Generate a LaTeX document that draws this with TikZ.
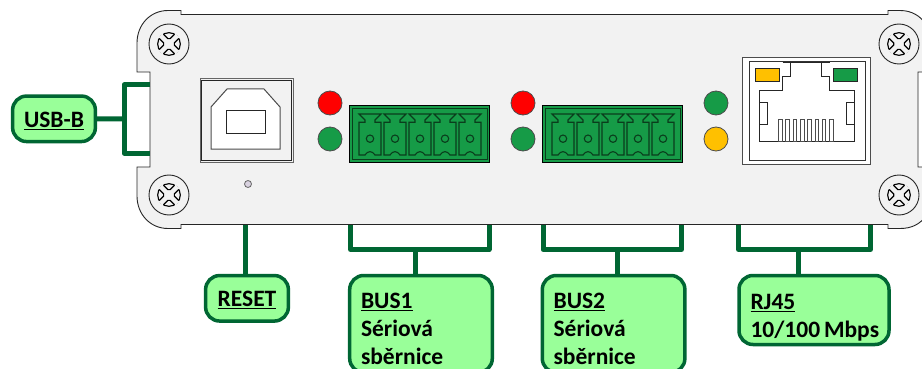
\documentclass[tikz,border=0pt]{standalone}
\usepackage{fontspec}
\setmainfont{Carlito}
\definecolor{panelgray}{HTML}{F2F2F2}
\definecolor{boxgreen}{HTML}{99FF99}
\definecolor{linegreen}{HTML}{006633}
\definecolor{ledgreen}{HTML}{169B47}
\definecolor{ledred}{HTML}{FF0000}
\definecolor{ledyellow}{HTML}{FFC000}
\definecolor{termdark}{HTML}{0A3D1C}
\definecolor{holegray}{HTML}{D9D2E0}
\tikzset{
	lblbox/.style = {draw = linegreen, line width = 3.5pt, fill = boxgreen, rounded corners = 14pt, inner sep = 0pt, align = left, font = \fontsize{23.5}{28}\bfseries\selectfont},
	bracket/.style = {draw = linegreen, line width = 5pt, line join = round},
	ledlamp/.style = {draw = black!70, line width = 0.8pt},
	thinline/.style = {draw = black!85, line width = 0.9pt}
}
\begin{document}
\begin{tikzpicture}[x = 1pt, y = -1pt]
	\useasboundingbox (0,0) rectangle (922,369);
	\clip (0,0) rectangle (922,369);
	\draw [thinline, fill = panelgray] (181,14.5) -- (888,14.5) -- (888,10.5) -- (900,10.5) .. controls (912,10.5) and (920,16) .. (926,24) -- (926,72) -- (918,72) -- (918,167) -- (926,167) -- (926,216) .. controls (920,224) and (912,228.5) .. (900,228.5) -- (888,228.5) -- (888,224.5) -- (181,224.5) -- (181,228.5) -- (168,228.5) .. controls (150,228.5) and (137,214) .. (137,196) -- (137,167) -- (150,167) -- (150,72) -- (137,72) -- (137,43) .. controls (137,25) and (150,10.5) .. (168,10.5) -- (181,10.5) -- cycle;
	\foreach \sx/\sy in {169/44, 169/195, 899/44, 899/195} {
		\begin{scope}[shift = {(\sx,\sy)}]
			\draw [thinline] (0,0) circle [radius = 20];
			\draw [draw = black, line width = 1.1pt] (0,0) circle [radius = 11.3];
			\begin{scope}[rotate = 45]
				\fill [panelgray] (-3,-12) rectangle (3,12) (-12,-3) rectangle (12,3);
				\foreach \a in {0,90,180,270}
					\draw [draw = black, line width = 1.1pt, rounded corners = 1.5pt, rotate = \a] (3,-10.9) -- (3,-3) -- (10.9,-3);
			\end{scope}
		\end{scope}
	}
	\draw [draw = black!60, line width = 1pt] (200,79) rectangle (293,162);
	\draw [thinline] (201.5,80.5) rectangle (291.5,160.5);
	\draw [draw = black!70, line width = 1pt, fill = white] (211,107) -- (211,149) -- (280,149) -- (280,107) -- (264,89) -- (227,89) -- cycle;
	\draw [thinline] (226,110) rectangle (265,133);
	\draw [draw = black!60, line width = 0.8pt, fill = holegray] (248,184) circle [radius = 3.5];
	\foreach \ox in {0,193} {
		\draw [ledlamp, fill = ledred] (330+\ox,103) circle [radius = 12];
		\draw [ledlamp, fill = ledgreen] (330+\ox,139) circle [radius = 12];
		\draw [draw = black, line width = 1pt, fill = ledgreen] (349.5+\ox,105.5) rectangle (489.5+\ox,162);
		\draw [draw = termdark, line width = 1pt] (352.5+\ox,109) rectangle (487+\ox,159.5);
		\foreach \t in {370,395,420,445,470} {
			\draw [draw = termdark, line width = 1.1pt] (\t+\ox-11,114) -- (\t+\ox+11,114) -- (\t+\ox+5,120) -- (\t+\ox+5,122.3) -- (\t+\ox+11,122.3) -- (\t+\ox+11,155) -- (\t+\ox+5,155) .. controls (\t+\ox+2,150.5) and (\t+\ox-2,150.5) .. (\t+\ox-5,155) -- (\t+\ox-11,155) -- (\t+\ox-11,122.3) -- (\t+\ox-5,122.3) -- (\t+\ox-5,120) -- cycle;
			\draw [draw = termdark, line width = 1.1pt] (\t+\ox,138.7) circle [radius = 3.7];
		}
	}
	\draw [ledlamp, fill = ledgreen] (716,103) circle [radius = 12];
	\draw [ledlamp, fill = ledyellow] (716,139) circle [radius = 12];
	\draw [draw = black!70, line width = 1pt, fill = white] (742.5,58) rectangle (870,164);
	\draw [draw = black!80, line width = 1pt] (749,62) rectangle (865.5,160);
	\draw [thinline] (759.5,141.5) -- (759.5,90.5) -- (782.5,90.5) -- (782.5,76.5) -- (790.5,76.5) -- (790.5,62) -- (821.5,62) -- (821.5,76.5) -- (829.5,76.5) -- (829.5,90.5) -- (854.5,90.5) -- (854.5,141.5) -- cycle;
	\draw [thinline] (782.5,62) -- (829.5,62);
	\draw [thinline] (759.5,102.5) rectangle (767.5,124.5);
	\draw [thinline] (846.5,102.5) rectangle (854.5,124.5);
	\foreach \p in {0,...,7}
		\draw [draw = black!70, line width = 0.8pt] (778.5+7.3*\p,119.5) rectangle (782+7.3*\p,141.5);
	\draw [thinline, fill = ledyellow] (755,68.5) rectangle (779,81.5);
	\draw [thinline, fill = ledgreen] (833.5,68.5) rectangle (857.5,81.5);
	\node [lblbox, minimum width = 82.8pt, minimum height = 45.5pt, align = center] (usbb) at (54,118.8) {\rule{0pt}{19pt}\underline{USB-B}};
	\node [lblbox, minimum width = 82.8pt, minimum height = 45.5pt, align = center] (reset) at (247,298.3) {\rule{0pt}{19pt}\underline{RESET}};
	\node [lblbox, text width = 120pt, minimum height = 97pt, minimum width = 142.6pt] (bus1) at (421,324) {\rule{0pt}{25pt}\underline{BUS1}\\Sériová\\sběrnice};
	\node [lblbox, text width = 120pt, minimum height = 97pt, minimum width = 142.6pt] (bus2) at (613.6,324) {\rule{0pt}{25pt}\underline{BUS2}\\Sériová\\sběrnice};
	\node [lblbox, text width = 127pt, minimum height = 69pt, minimum width = 150pt] (rj45) at (814,310) {\rule{0pt}{31pt}\underline{RJ45}\\\mbox{10/100\,Mbps}};
	\coordinate (usbtop) at (150,85);
	\coordinate (usbbot) at (150,153);
	\coordinate (usbfork) at (124,119);
	\coordinate (resettop) at (245,225);
	\coordinate (bus1l) at (350.5,225);
	\coordinate (bus1r) at (489,225);
	\coordinate (bus1mid) at (415,249.5);
	\coordinate (bus2l) at (543,225);
	\coordinate (bus2r) at (681.5,225);
	\coordinate (bus2mid) at (617.5,249.5);
	\coordinate (rj45l) at (738.5,225);
	\coordinate (rj45r) at (870.5,225);
	\coordinate (rj45mid) at (798.5,249.5);
	\draw [bracket] (usbb.east) -- (usbfork);
	\draw [bracket] (usbtop) -- (usbfork |- usbtop) -- (usbfork |- usbbot) -- (usbbot);
	\draw [bracket] (resettop) -- (resettop |- reset.north);
	\draw [bracket] (bus1l) -- (bus1l |- bus1mid) -- (bus1r |- bus1mid) -- (bus1r);
	\draw [bracket] (bus1mid) -- (bus1mid |- bus1.north);
	\draw [bracket] (bus2l) -- (bus2l |- bus2mid) -- (bus2r |- bus2mid) -- (bus2r);
	\draw [bracket] (bus2mid) -- (bus2mid |- bus2.north);
	\draw [bracket] (rj45l) -- (rj45l |- rj45mid) -- (rj45r |- rj45mid) -- (rj45r);
	\draw [bracket] (rj45mid) -- (rj45mid |- rj45.north);
\end{tikzpicture}
\end{document}
